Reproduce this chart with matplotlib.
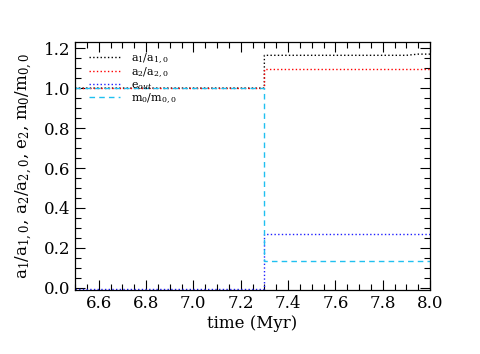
import matplotlib
matplotlib.use("Agg")
import matplotlib.pyplot as plt
from matplotlib.ticker import MultipleLocator

# time grid (Myr) where the evolution changes
time = [6.50, 7.30, 7.30, 7.90, 7.95, 8.00]
a1 = [1.000, 1.000, 1.164, 1.164, 1.170, 1.170]
a2 = [1.000, 1.000, 1.098, 1.098, 1.098, 1.098]
e_out = [-0.004, -0.004, 0.268, 0.268, 0.268, 0.268]
m0 = [1.000, 1.000, 0.135, 0.135, 0.135, 0.135]

labels = [r"a$_1$/a$_{1,0}$", r"a$_2$/a$_{2,0}$", r"e$_{out}$", r"m$_0$/m$_{0,0}$"]

plt.rcParams["font.family"] = ["DejaVu Serif"]
plt.rcParams["mathtext.fontset"] = "dejavuserif"

fig = plt.figure(figsize=(4.81, 3.54), dpi=100)
ax = fig.add_axes([0.156, 0.181, 0.738, 0.700])

ax.plot(time, a1, color="black", ls=":", lw=1.0, label=labels[0])
ax.plot(time, a2, color="red", ls=":", lw=1.0, label=labels[1])
ax.plot(time, e_out, color="#2020ff", ls=":", lw=1.0, label=labels[2])
ax.plot(time, m0, color="#20c0f0", ls=(0, (4, 3)), lw=1.0, label=labels[3])

ax.set_xlim(6.5, 8.0)
ax.set_ylim(-0.01, 1.23)
ax.xaxis.set_major_locator(MultipleLocator(0.2))
ax.xaxis.set_minor_locator(MultipleLocator(0.05))
ax.yaxis.set_major_locator(MultipleLocator(0.2))
ax.yaxis.set_minor_locator(MultipleLocator(0.05))
ax.tick_params(which="both", direction="in", top=True, right=True, labelsize=12)
ax.tick_params(which="major", length=7, width=0.8)
ax.tick_params(which="minor", length=4, width=0.8)
for s in ax.spines.values():
    s.set_linewidth(0.9)

ax.set_xlabel("time (Myr)", fontsize=12, labelpad=2)
ax.set_ylabel(r"a$_1$/a$_{1,0}$, a$_2$/a$_{2,0}$, e$_2$, m$_0$/m$_{0,0}$", fontsize=12, labelpad=6)

ax.legend(loc="upper left", frameon=False, fontsize=8, handlelength=2.8,
          handletextpad=1.0, labelspacing=0.0, borderaxespad=0.2,
          bbox_to_anchor=(0.02, 0.988))

fig.savefig("out.png", dpi=100)
